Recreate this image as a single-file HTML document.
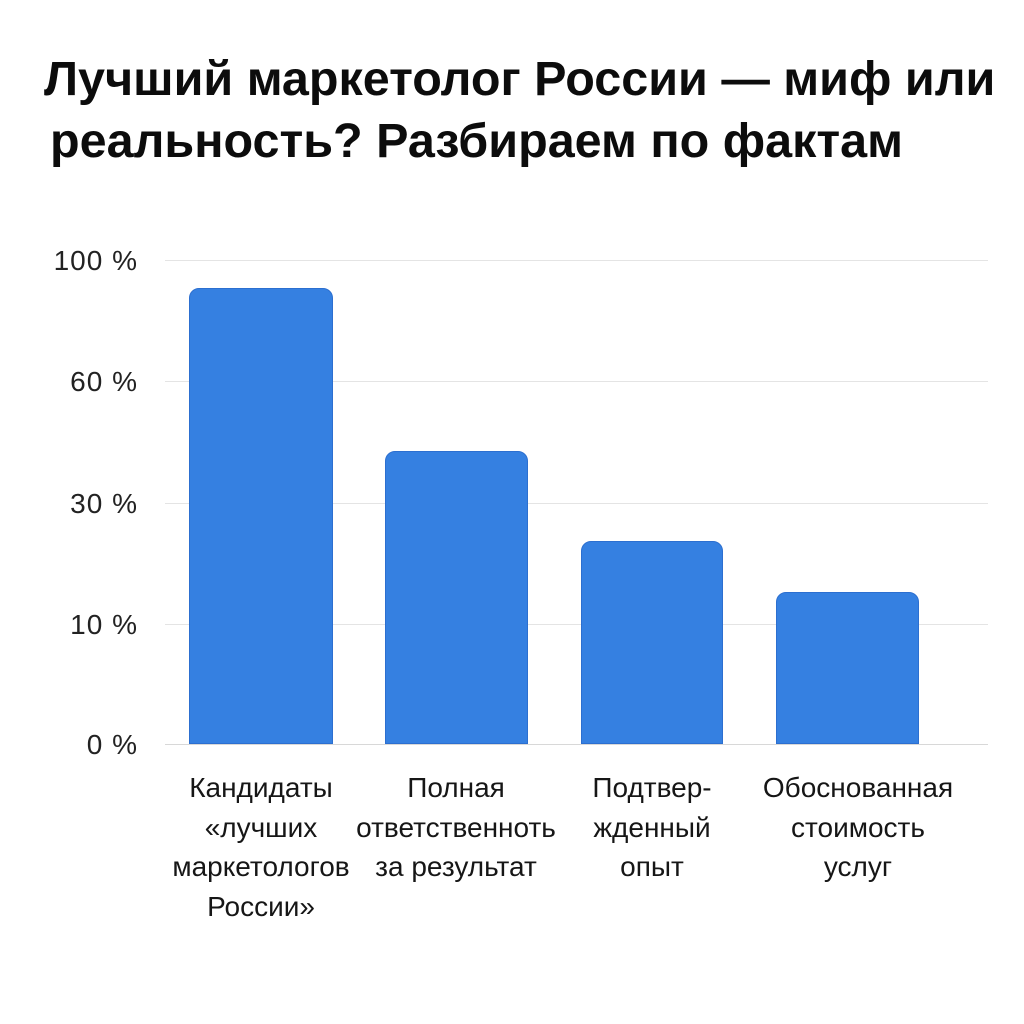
<!DOCTYPE html>
<html><head><meta charset="utf-8"><style>
html,body{margin:0;padding:0;background:#fff;}
body{width:1024px;height:1024px;position:relative;overflow:hidden;font-family:"Liberation Sans","DejaVu Sans",sans-serif;color:#111;}
.t{position:absolute;left:44px;font-weight:bold;font-size:48.5px;white-space:nowrap;color:#0c0c0c;}
.g{position:absolute;left:165px;width:823px;height:1px;background:#e4e4e4;}
.yl{position:absolute;left:20px;width:118px;text-align:right;font-size:28px;letter-spacing:1px;color:#222;line-height:30px;}
.b{position:absolute;background:#3580e1;border-radius:10px 10px 0 0;border:1px solid #2c6fd0;box-sizing:border-box;}
.c{position:absolute;top:768px;text-align:center;font-size:28px;line-height:39.5px;color:#161616;white-space:nowrap;}
</style></head><body>
<div class="t" style="top:51px">Лучший маркетолог России — миф или</div>
<div class="t" style="top:113px;left:50px">реальность? Разбираем по фактам</div>

<div class="g" style="top:260px"></div>
<div class="g" style="top:381px"></div>
<div class="g" style="top:503px"></div>
<div class="g" style="top:624px"></div>
<div class="g" style="top:744px;background:#d8d8d8"></div>

<div class="yl" style="top:246px">100 %</div>
<div class="yl" style="top:367px">60 %</div>
<div class="yl" style="top:489px">30 %</div>
<div class="yl" style="top:610px">10 %</div>
<div class="yl" style="top:730px">0 %</div>

<div class="b" style="left:189px;width:144px;top:288px;height:456px"></div>
<div class="b" style="left:385px;width:143px;top:451px;height:293px"></div>
<div class="b" style="left:581px;width:142px;top:541px;height:203px"></div>
<div class="b" style="left:776px;width:143px;top:592px;height:152px"></div>

<div class="c" style="left:161px;width:200px">Кандидаты<br>«лучших<br>маркетологов<br>России»</div>
<div class="c" style="left:356px;width:200px">Полная<br>ответственноть<br>за результат</div>
<div class="c" style="left:562px;width:180px">Подтвер-<br>жденный<br>опыт</div>
<div class="c" style="left:748px;width:220px">Обоснованная<br>стоимость<br>услуг</div>
</body></html>
